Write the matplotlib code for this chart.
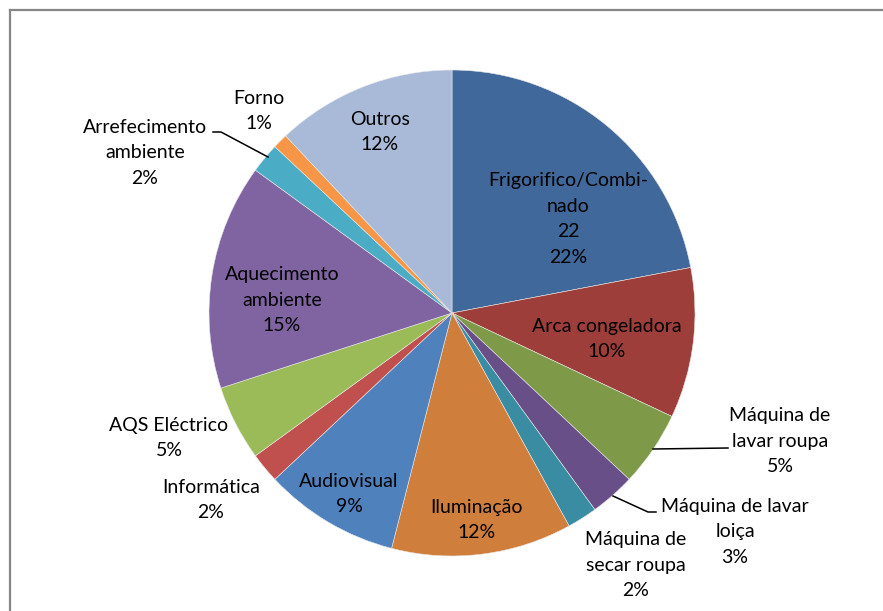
import matplotlib
matplotlib.use("Agg")
import matplotlib.pyplot as plt
from matplotlib.lines import Line2D

plt.rcParams['font.family'] = ['Lato', 'DejaVu Sans']

categories = [
    "Frigorifico/Combi-\nnado", "Arca congeladora", "Máquina de\nlavar roupa",
    "Máquina de lavar\nloiça", "Máquina de\nsecar roupa", "Iluminação",
    "Audiovisual", "Informática", "AQS Eléctrico", "Aquecimento\nambiente",
    "Arrefecimento\nambiente", "Forno", "Outros",
]
values = [22, 10, 5, 3, 2, 12, 9, 2, 5, 15, 2, 1, 12]
colors = [
    "#41689A", "#9E3E3B", "#7E9A48", "#684F88", "#3A8CA2", "#D07E3C",
    "#4F81BD", "#C0504D", "#9BBB59", "#8064A2", "#4BACC6", "#F79646",
    "#A9B9D8",
]

W, H = 883, 611
fig = plt.figure(figsize=(W / 100, H / 100), dpi=100)
ax = fig.add_axes([0, 0, 1, 1])


def py(y):
    # convert a top-down pixel row into axis units
    return H - y


cx, cy, r = 452, 313, 243
ax.pie(values, colors=colors, startangle=90, counterclock=False,
       center=(cx, py(cy)), radius=r, frame=True,
       wedgeprops=dict(linewidth=0.4, edgecolor="#E8E8E8"))
ax.set_xlim(0, W)
ax.set_ylim(0, H)
ax.set_aspect("equal")
ax.set_axis_off()

total = sum(values)
# label text centres (pixels) for each slice
label_pos = [
    (568, 219), (607, 339), (780, 441), (735, 532), (636, 565), (477, 520),
    (349, 494), (211, 500), (169, 438), (282, 300), (145, 153), (259, 111),
    (380, 132),
]
line_step = 25.5
for i, (name, v) in enumerate(zip(categories, values)):
    pct = f"{round(100 * v / total)}%"
    lines = name.split("\n") + ([str(v)] if i == 0 else []) + [pct]
    x, y = label_pos[i]
    top = y - line_step * (len(lines) - 1) / 2
    for k, line in enumerate(lines):
        ax.text(x, py(top + k * line_step), line, ha="center", va="center",
                fontsize=14, color="#000000")

# leader lines for labels set outside the pie
leaders = [
    [(213, 132), (221, 132), (268, 157)],
    [(653, 449), (728, 448)],
    [(613, 496), (648, 512), (656, 512)],
]
for pts in leaders:
    xs = [p[0] for p in pts]
    ys = [py(p[1]) for p in pts]
    ax.add_line(Line2D(xs, ys, color="#000000", linewidth=1.1))

# chart-area border
ax.add_line(Line2D([10, 10], [py(10), 0], color="#878787", linewidth=1.6))
ax.add_line(Line2D([10, W], [py(10), py(10)], color="#878787", linewidth=1.6))

fig.savefig("out.png", dpi=100, facecolor="white")
